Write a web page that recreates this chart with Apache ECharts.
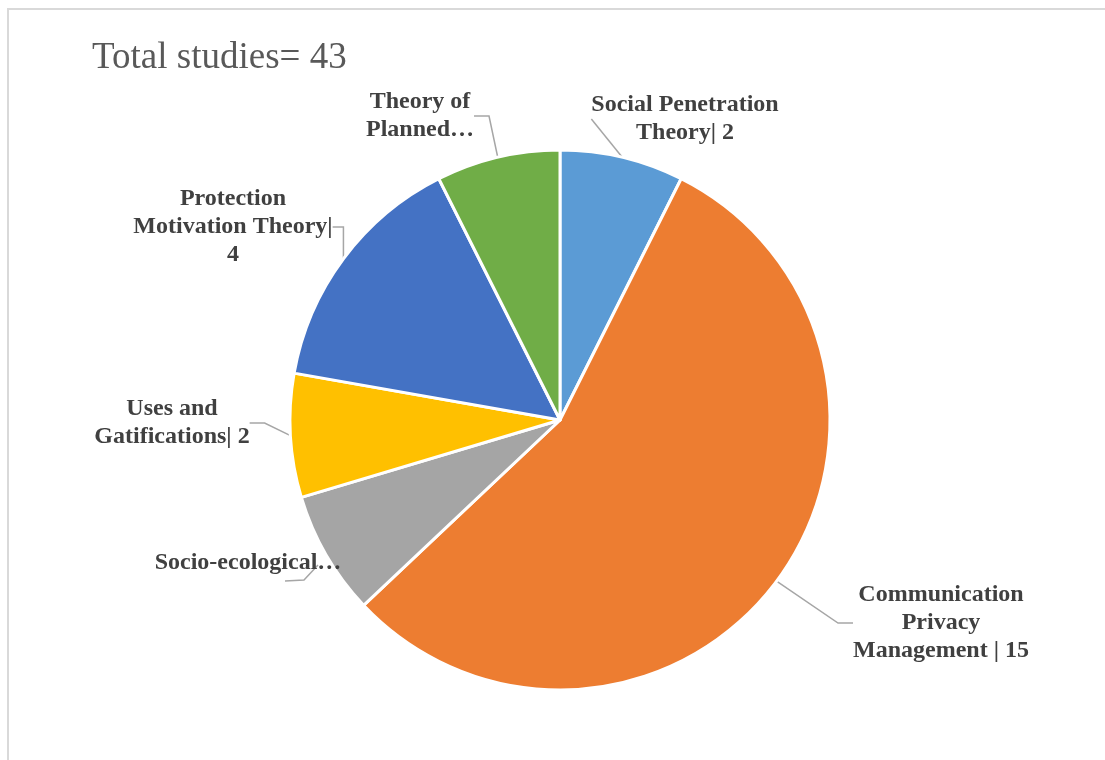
<!DOCTYPE html>
<html>
<head>
<meta charset="utf-8">
<script src="https://cdn.jsdelivr.net/npm/echarts@6/dist/echarts.min.js"></script>
<style>
  html, body { margin: 0; padding: 0; background: #ffffff; }
  #chart { width: 1105px; height: 760px; }
</style>
</head>
<body>
<div id="chart"></div>
<script>
// Theories used across the reviewed studies
const categories = [
  'Social Penetration Theory',
  'Communication Privacy Management',
  'Socio-ecological…',
  'Uses and Gatifications',
  'Protection Motivation Theory',
  'Theory of Planned…'
];
const values = [2, 15, 2, 2, 4, 2];
const totalStudies = 43;

// Slice colours (Office palette)
const colors = ['#5B9BD5', '#ED7D31', '#A5A5A5', '#FFC000', '#4472C4', '#70AD47'];

// Label text per slice, wrapped into lines
const labelText = [
  v => 'Social Penetration\nTheory| ' + v,
  v => 'Communication\nPrivacy\nManagement | ' + v,
  v => 'Socio-ecological…',
  v => 'Uses and\nGatifications| ' + v,
  v => 'Protection\nMotivation Theory|\n' + v,
  v => 'Theory of\nPlanned…'
];

// Centre of each label block
const labelPos = [
  [685, 119],
  [941, 623],
  [248, 563],
  [172, 423],
  [233, 227],
  [420, 116]
];

// The socio-ecological label sits on its slice, so its leader is given explicitly
const fixedLeader = {
  2: [[318, 565], [304, 580], [285, 581]]
};

const chart = echarts.init(document.getElementById('chart'), null, { renderer: 'canvas' });

chart.setOption({
  animation: false,
  backgroundColor: '#ffffff',
  title: {
    text: 'Total studies= ' + totalStudies,
    left: 87,
    top: 35,
    textStyle: {
      fontFamily: 'Liberation Serif',
      fontSize: 37,
      fontWeight: 'normal',
      color: '#595959'
    }
  },
  graphic: [{
    type: 'rect',
    silent: true,
    shape: { x: 8, y: 9, width: 1200, height: 800 },
    style: { fill: 'none', stroke: '#d9d9d9', lineWidth: 2 }
  }],
  series: [{
    type: 'pie',
    center: [560, 420],
    radius: 270,
    startAngle: 90,
    clockwise: true,
    avoidLabelOverlap: false,
    itemStyle: { borderColor: '#ffffff', borderWidth: 3 },
    label: {
      show: true,
      position: 'outside',
      fontFamily: 'Liberation Serif',
      fontWeight: 'bold',
      fontSize: 24,
      lineHeight: 28,
      color: '#404040',
      align: 'center',
      formatter: p => labelText[p.dataIndex](p.value)
    },
    labelLine: {
      show: true,
      length: 15,
      length2: 15,
      lineStyle: { color: '#a6a6a6', width: 1.5 }
    },
    labelLayout: params => {
      const i = params.dataIndex;
      const layout = {
        x: labelPos[i][0],
        y: labelPos[i][1],
        align: 'center',
        verticalAlign: 'middle'
      };
      if (fixedLeader[i]) layout.labelLinePoints = fixedLeader[i];
      return layout;
    },
    emphasis: { disabled: true },
    data: categories.map((name, i) => ({
      name: name,
      value: values[i],
      itemStyle: { color: colors[i] }
    }))
  }]
});
</script>
</body>
</html>
